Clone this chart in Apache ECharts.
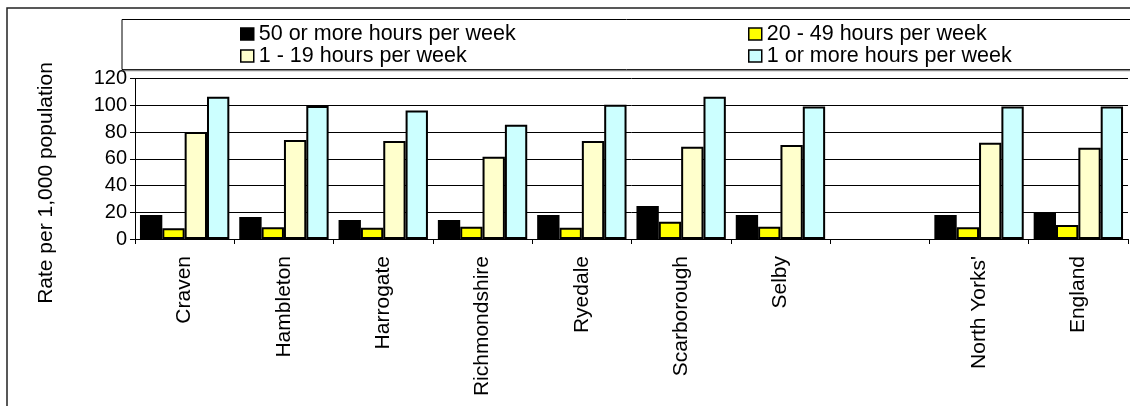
<!DOCTYPE html>
<html>
<head>
<meta charset="utf-8">
<script src="https://cdn.jsdelivr.net/npm/echarts@6/dist/echarts.min.js"></script>
<style>
html,body{margin:0;padding:0;background:#fff;}
#chart{width:1130px;height:406px;}
</style>
</head>
<body>
<div id="chart"></div>
<script>
const categories = ['Craven','Hambleton','Harrogate','Richmondshire','Ryedale','Scarborough','Selby','',"North Yorks'",'England'];
const seriesNames = ['50 or more hours per week','20 - 49 hours per week','1 - 19 hours per week','1 or more hours per week'];
const hours50plus = [18, 16.5, 14.2, 14.2, 18, 24.7, 18, null, 18, 20.2];
const hours20to49 = [8, 8.7, 8.5, 9.2, 8.5, 12.9, 9.2, null, 8.7, 10.5];
const hours1to19 = [80, 74, 73.3, 61.5, 73.3, 69, 70.3, null, 72, 68.3];
const hours1plus = [106.4, 99.4, 96, 85.5, 100.4, 106.4, 99, null, 99, 99];
const yTicks = [0, 20, 40, 60, 80, 100, 120];
const yTitle = 'Rate per 1,000 population';

const colors = ['#000000', '#FFFF00', '#FFFFCC', '#CCFFFF'];
const values = [hours50plus, hours20to49, hours1to19, hours1plus];
const FONT = '"Liberation Sans", Arial, sans-serif';

const chart = echarts.init(document.getElementById('chart'), null, {renderer: 'canvas'});

const legendPos = [
  {left: 240, top: 23},
  {left: 748, top: 23},
  {left: 240, top: 45},
  {left: 748, top: 45}
];

const option = {
  animation: false,
  backgroundColor: '#ffffff',
  graphic: [
    {type: 'rect', shape: {x: 7, y: 8, width: 1140, height: 420}, style: {fill: 'none', stroke: '#222', lineWidth: 1.5}, silent: true, z: 0},
    {type: 'rect', shape: {x: 122, y: 19.5, width: 1020, height: 50}, style: {fill: '#fff', stroke: '#000', lineWidth: 1}, silent: true, z: 0},
    {type: 'line', shape: {x1: 123, y1: 70.5, x2: 1142, y2: 70.5}, style: {stroke: '#888', lineWidth: 1.5}, silent: true, z: 0},
    {type: 'text', x: 46, y: 183, rotation: Math.PI / 2, style: {text: yTitle, font: '21px ' + FONT, fill: '#000', textAlign: 'center', textVerticalAlign: 'middle'}, silent: true}
  ],
  legend: seriesNames.map((n, i) => ({
    data: [n],
    left: legendPos[i].left,
    top: legendPos[i].top,
    padding: 0,
    itemWidth: 13,
    itemHeight: 12,
    icon: 'rect',
    itemStyle: {borderColor: '#000', borderWidth: 1.5},
    textStyle: {fontFamily: FONT, fontSize: 21.5, color: '#000', padding: [0, 0, 0, 0]},
    selectedMode: false
  })),
  grid: {left: 135, right: 2, top: 78.5, bottom: 167, containLabel: false},
  xAxis: {
    type: 'category',
    data: categories,
    boundaryGap: true,
    axisLine: {show: true, lineStyle: {color: '#000', width: 1}},
    axisTick: {show: true, length: 5, alignWithLabel: false, lineStyle: {color: '#000'}},
    axisLabel: {rotate: 90, margin: 17, fontFamily: FONT, fontSize: 21, color: '#000', interval: 0},
    splitLine: {show: false}
  },
  yAxis: {
    type: 'value',
    min: 0, max: 120, interval: 20,
    axisLine: {show: true, lineStyle: {color: '#000', width: 1}},
    axisTick: {show: true, length: 5, inside: false, lineStyle: {color: '#000'}},
    axisLabel: {fontFamily: FONT, fontSize: 20, color: '#000', margin: 8, formatter: v => yTicks.includes(v) ? String(v) : ''},
    splitLine: {show: true, lineStyle: {color: '#000', width: 1}}
  },
  series: seriesNames.map((n, i) => ({
    name: n,
    type: 'bar',
    data: values[i],
    barGap: '0%',
    barCategoryGap: '10%',
    itemStyle: {color: colors[i], borderColor: '#000', borderWidth: 2},
    emphasis: {disabled: true}
  }))
};
chart.setOption(option);
</script>
</body>
</html>
